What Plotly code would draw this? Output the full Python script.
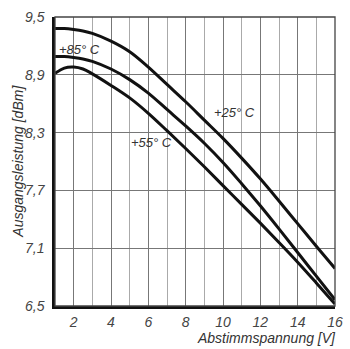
import plotly.graph_objects as go

x_volt = [1, 1.5, 2, 2.5, 3, 4, 5, 6, 7, 8, 9, 10, 11, 12, 13, 14, 15, 16]
p_25 = [9.38, 9.38, 9.37, 9.355, 9.33, 9.25, 9.14, 8.98, 8.80, 8.62, 8.43, 8.24, 8.035, 7.82, 7.59, 7.355, 7.12, 6.89]
p_85 = [9.09, 9.09, 9.08, 9.065, 9.04, 8.96, 8.85, 8.71, 8.54, 8.37, 8.19, 7.99, 7.77, 7.54, 7.30, 7.055, 6.81, 6.565]
p_55 = [8.915, 8.97, 8.98, 8.96, 8.91, 8.79, 8.66, 8.50, 8.32, 8.135, 7.945, 7.75, 7.555, 7.36, 7.16, 6.955, 6.74, 6.52]

y_ticks = [6.5, 7.1, 7.7, 8.3, 8.9, 9.5]
x_ticks = [2, 4, 6, 8, 10, 12, 14, 16]

labels = ["+25° C", "+85° C", "+55° C"]
label_x = [10.6, 2.3, 6.15]
label_y = [8.51, 9.16, 8.2]

FONT = "Liberation Sans Narrow, Liberation Sans, Arial, sans-serif"

fig = go.Figure()
for ys in (p_25, p_85, p_55):
    fig.add_trace(go.Scatter(x=x_volt, y=ys, mode="lines",
                             line=dict(color="#111111", width=3, shape="spline", smoothing=1.0),
                             showlegend=False, hoverinfo="skip"))

for t, lx, ly in zip(labels, label_x, label_y):
    fig.add_annotation(x=lx, y=ly, text=t, showarrow=False,
                       font=dict(family=FONT, size=13, color="#333333", style="italic"))

fig.add_annotation(xref="paper", yref="paper", x=1.01, y=-0.075, xanchor="right", yanchor="top",
                   text="<i>Abstimmspannung [V]</i>", showarrow=False,
                   font=dict(family=FONT, size=14, color="#333333"))
fig.add_annotation(xref="paper", yref="paper", x=-0.135, y=0.5, xanchor="center", yanchor="middle",
                   text="<i>Ausgangsleistung [dBm]</i>", showarrow=False, textangle=-90,
                   font=dict(family=FONT, size=14, color="#333333"))

fig.add_shape(type="rect", xref="paper", yref="paper", x0=0, y0=0, x1=1, y1=1,
              line=dict(color="#444444", width=1.3), layer="above")

x_text = ["<i>%d</i>" % v for v in x_ticks]
y_text = ["<i>" + ("%.1f" % v).replace(".", ",") + "</i>" for v in y_ticks]

fig.update_xaxes(range=[1, 16], tickvals=x_ticks, ticktext=x_text, ticklabeloverflow="allow",
                 showgrid=True, gridcolor="#777777", gridwidth=1.2,
                 minor=dict(dtick=1, tick0=1, showgrid=True, gridcolor="#aaaaaa", gridwidth=1),
                 showline=True, linecolor="#111111", linewidth=2.5, zeroline=False,
                 ticks="outside", ticklen=1, tickcolor="rgba(0,0,0,0)",
                 tickfont=dict(family=FONT, size=14, color="#444444"))
fig.update_yaxes(range=[6.5, 9.5], tickvals=y_ticks, ticktext=y_text, ticklabeloverflow="allow",
                 showgrid=True, gridcolor="#777777", gridwidth=1.2,
                 showline=True, linecolor="#111111", linewidth=2.5, zeroline=False,
                 ticks="outside", ticklen=5, tickcolor="rgba(0,0,0,0)",
                 tickfont=dict(family=FONT, size=14, color="#444444"))

fig.update_layout(width=350, height=349, margin=dict(l=55, r=7, t=17, b=43),
                  plot_bgcolor="white", paper_bgcolor="white", separators=",.")

fig.write_html("out.html", config={"displayModeBar": False},
               post_script="document.body.style.margin='0';document.body.style.overflow='hidden';")
